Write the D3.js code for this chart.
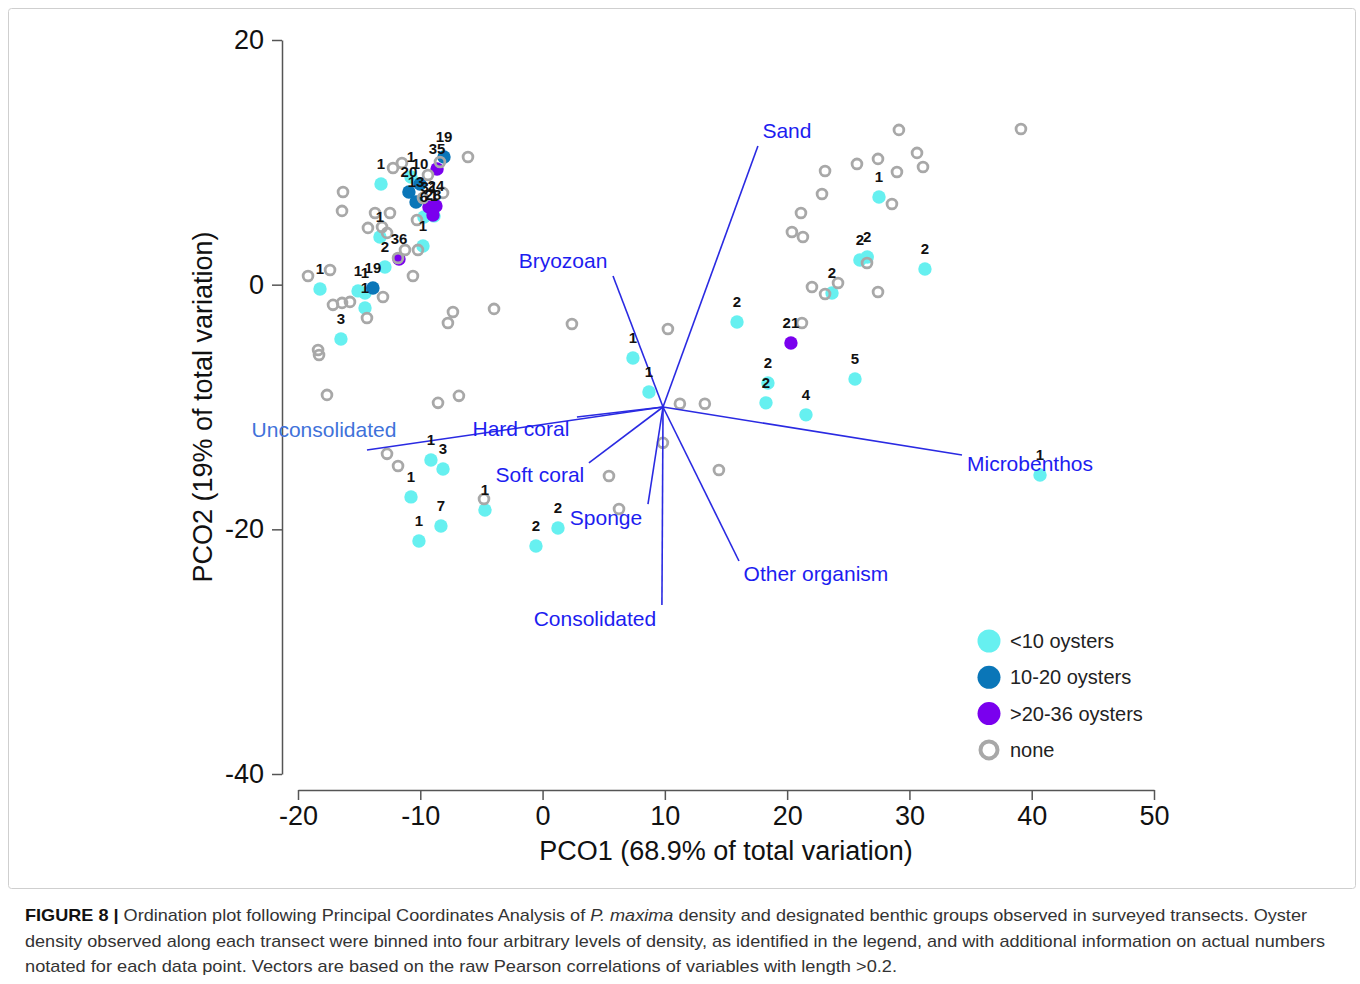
<!DOCTYPE html>
<html>
<head>
<meta charset="utf-8">
<script src="https://cdn.jsdelivr.net/npm/d3@7"></script>
<style>
  html, body { margin: 0; padding: 0; background: #ffffff; }
  svg { display: block; }
  text { font-family: "Liberation Sans", Arial, Helvetica, sans-serif; }
</style>
</head>
<body>
<svg id="chart" width="1360" height="984"></svg>
<script>
// ---- Data -------------------------------------------------------------
// Transect scores on the first two principal coordinates and the number of
// P. maxima counted on each transect (0 = no oysters observed).
const pco1 = [
  // oysters present
  -18.20, -16.49, -15.09, -14.52, -14.52, -12.89, -13.30, -9.78, -13.21,
  -10.76, -10.02, -10.93, -10.35, -9.70, -8.88, -9.29, -8.72, -8.96,
  -8.06, -8.63, -11.74, -13.87,
  -9.13, -8.14, -10.76, -8.31, -10.11, -4.71, -0.54, 1.26,
  7.39, 8.70, 15.90, 18.43, 18.27, 21.54, 25.55, 40.68, 20.31,
  27.51, 25.95, 26.55, 31.27, 23.67,
  // no oysters
  39.12, 29.14, 30.62, 31.11, 27.43, 25.71, 28.98, 23.10, 22.85, 28.57,
  21.13, 20.39, 21.29, 26.53, 24.16, 22.03, 23.10, 27.43, 21.21,
  13.27, 11.23, 10.25, 9.84, 14.42, 5.43, 6.25, 2.40,
  -3.97, -4.79, -6.84, -8.55, -7.33, -7.74, -12.72, -11.82,
  -17.63, -18.36, -18.28, -17.14, -16.40, -15.75, -17.38, -19.18,
  -13.05, -14.36, -10.60, -11.82, -11.25, -10.19,
  -16.32, -16.40, -13.70, -12.48, -14.28, -13.13, -12.72, -10.27,
  -12.23, -11.50, -9.37, -6.10, -8.14, -9.78, -8.39
];
const pco2 = [
  -0.35, -4.44, -0.51, -0.68, -1.90, 1.45, 3.90, 3.16, 8.23,
  8.80, 8.23, 7.58, 6.76, 5.53, 5.62, 6.35, 6.43, 5.70,
  10.44, 9.46, 2.10, -0.27,
  -14.33, -15.07, -17.35, -19.73, -20.95, -18.42, -21.36, -19.89,
  -5.99, -8.77, -3.05, -8.04, -9.66, -10.64, -7.71, -15.56, -4.77,
  7.17, 2.02, 2.26, 1.28, -0.68,
  12.73, 12.65, 10.77, 9.62, 10.28, 9.87, 9.21, 9.29, 7.41, 6.60,
  5.86, 4.31, 3.90, 1.77, 0.14, -0.19, -0.76, -0.60, -3.13,
  -9.74, -9.74, -3.62, -12.93, -15.15, -15.64, -18.34, -3.21,
  -1.98, -17.52, -9.09, -9.66, -2.23, -3.13, -13.83, -14.82,
  -9.01, -5.34, -5.75, -1.65, -1.49, -1.41, 1.20, 0.71,
  -1.01, -2.72, 0.71, 2.18, 2.84, 2.84,
  7.58, 6.03, 5.86, 5.86, 4.64, 4.72, 4.23, 5.29,
  9.54, 9.95, 8.97, 10.44, 7.50, 7.09, 10.03
];
const oysterCount = [
  1, 3, 1, 1, 1, 2, 1, 1, 1,
  1, 10, 20, 13, 6, 1, 31, 24, 28,
  19, 35, 36, 19,
  1, 3, 1, 7, 1, 1, 2, 2,
  1, 1, 2, 2, 2, 4, 5, 1, 21,
  1, 2, 2, 2, 2,
  0, 0, 0, 0, 0, 0, 0, 0, 0, 0,
  0, 0, 0, 0, 0, 0, 0, 0, 0,
  0, 0, 0, 0, 0, 0, 0, 0,
  0, 0, 0, 0, 0, 0, 0, 0,
  0, 0, 0, 0, 0, 0, 0, 0,
  0, 0, 0, 0, 0, 0,
  0, 0, 0, 0, 0, 0, 0, 0,
  0, 0, 0, 0, 0, 0, 0
];

// Benthic-group vectors (Pearson correlations > 0.2), drawn from a common origin
const vectorNames = ["Sand", "Bryozoan", "Unconsolidated", "Hard coral", "Soft coral",
                     "Sponge", "Consolidated", "Other organism", "Microbenthos"];
const vectorEndX = [17.61, 5.76, -14.36, 2.81, 3.79, 8.62, 9.76, 16.06, 34.30];
const vectorEndY = [11.34, 0.71, -13.51, -10.82, -14.57, -17.93, -26.19, -22.59, -13.92];
const vectorOrigin = [9.85, -10.0];

// Density bins used for colouring and the legend
const densityLabels = ["<10 oysters", "10-20 oysters", ">20-36 oysters", "none"];

// Axis ticks and titles
const xTicks = [-20, -10, 0, 10, 20, 30, 40, 50];
const yTicks = [-40, -20, 0, 20];
const xTitle = "PCO1 (68.9% of total variation)";
const yTitle = "PCO2 (19% of total variation)";

// ---- Layout & style ---------------------------------------------------
const binColors = ["#66f0f0", "#0a76b8", "#7a00ee", "#a8a8a8"];
const vectorColor = "#2a2ae2";
const vectorLabelColor = ["#1d1df0", "#1d1df0", "#3f72da", "#1d1df0", "#1d1df0",
                          "#1d1df0", "#1d1df0", "#1d1df0", "#1d1df0"];
// pixel offset of each vector label centre from the vector tip
const vectorLabelOffset = [[29, -15], [-50, -15], [-43, -20], [-56, 11], [-49, 12],
                           [-42, 13], [-67, 13], [77, 12], [68, 9]];

function binOf(n) {
  if (n === 0) return 3;
  if (n < 10) return 0;
  if (n <= 20) return 1;
  return 2;
}

const svg = d3.select("#chart");

// Figure frame
svg.append("rect")
  .attr("x", 8.5).attr("y", 8.5)
  .attr("width", 1347).attr("height", 880)
  .attr("rx", 3)
  .attr("fill", "none")
  .attr("stroke", "#cfcfcf")
  .attr("stroke-width", 1);

const x = d3.scaleLinear().domain([-20, 50]).range([298, 1154]);
const y = d3.scaleLinear().domain([-40, 20]).range([774, 40]);

// ---- Axes -------------------------------------------------------------
function styleAxis(g) {
  g.select(".domain").attr("stroke", "#555").attr("stroke-width", 1.5);
  g.selectAll(".tick line").attr("stroke", "#555").attr("stroke-width", 1.5);
  g.selectAll(".tick text")
    .attr("fill", "#111")
    .style("font-size", "27px")
    .style("font-family", "'Liberation Sans', Arial, sans-serif");
}
const plainNumber = d => String(d);

svg.append("g")
  .attr("transform", "translate(282,0)")
  .call(d3.axisLeft(y).tickValues(yTicks).tickSize(10).tickSizeOuter(0).tickPadding(8)
        .tickFormat(plainNumber))
  .call(styleAxis);

svg.append("g")
  .attr("transform", "translate(0,790)")
  .call(d3.axisBottom(x).tickValues(xTicks).tickSize(10).tickSizeOuter(0).tickPadding(6)
        .tickFormat(plainNumber))
  .call(styleAxis);

svg.append("text")
  .attr("x", 726).attr("y", 860)
  .attr("text-anchor", "middle")
  .attr("fill", "#111")
  .style("font-size", "27px")
  .text(xTitle);

svg.append("text")
  .attr("transform", "translate(212,407) rotate(-90)")
  .attr("text-anchor", "middle")
  .attr("fill", "#111")
  .style("font-size", "27px")
  .text(yTitle);

// ---- Points -----------------------------------------------------------
const points = pco1.map((v, i) => ({ px: v, py: pco2[i], n: oysterCount[i], bin: binOf(oysterCount[i]) }));

// occupied transects (filled discs)
svg.append("g").selectAll("circle")
  .data(points.filter(d => d.bin !== 3))
  .join("circle")
  .attr("cx", d => x(d.px))
  .attr("cy", d => y(d.py))
  .attr("r", 6.7)
  .attr("fill", d => binColors[d.bin]);

// transects with no oysters (open rings)
svg.append("g").selectAll("circle")
  .data(points.filter(d => d.bin === 3))
  .join("circle")
  .attr("cx", d => x(d.px))
  .attr("cy", d => y(d.py))
  .attr("r", 4.9)
  .attr("fill", "none")
  .attr("stroke", binColors[3])
  .attr("stroke-width", 2.8);

// ---- Vectors ----------------------------------------------------------
const vectors = vectorNames.map((name, i) => ({ name, ex: vectorEndX[i], ey: vectorEndY[i], i }));

svg.append("g").selectAll("line")
  .data(vectors)
  .join("line")
  .attr("x1", x(vectorOrigin[0])).attr("y1", y(vectorOrigin[1]))
  .attr("x2", d => x(d.ex)).attr("y2", d => y(d.ey))
  .attr("stroke", vectorColor)
  .attr("stroke-width", 1.6);

svg.append("g").selectAll("text")
  .data(vectors)
  .join("text")
  .attr("x", d => x(d.ex) + vectorLabelOffset[d.i][0])
  .attr("y", d => y(d.ey) + vectorLabelOffset[d.i][1])
  .attr("text-anchor", "middle")
  .attr("dominant-baseline", "central")
  .attr("fill", d => vectorLabelColor[d.i])
  .style("font-size", "21px")
  .text(d => d.name);

// ---- Oyster counts ----------------------------------------------------
svg.append("g").selectAll("text")
  .data(points.filter(d => d.n > 0))
  .join("text")
  .attr("x", d => x(d.px))
  .attr("y", d => y(d.py) - 15)
  .attr("text-anchor", "middle")
  .attr("fill", "#111")
  .style("font-size", "15px")
  .style("font-weight", "bold")
  .text(d => d.n);

// ---- Legend -----------------------------------------------------------
const legend = svg.append("g").attr("transform", "translate(989,641)");
const legendRows = legend.selectAll("g")
  .data(densityLabels)
  .join("g")
  .attr("transform", (d, i) => `translate(0,${i * 36.3})`);

legendRows.append("circle")
  .attr("r", (d, i) => i === 3 ? 8.5 : 11.5)
  .attr("fill", (d, i) => i === 3 ? "none" : binColors[i])
  .attr("stroke", (d, i) => i === 3 ? binColors[3] : "none")
  .attr("stroke-width", 4);

legendRows.append("text")
  .attr("x", 21)
  .attr("dominant-baseline", "central")
  .attr("fill", "#222")
  .style("font-size", "20px")
  .text(d => d);

// ---- Caption ----------------------------------------------------------
const captionLines = [
  [["FIGURE 8 | ", "bold", "normal"], ["Ordination plot following Principal Coordinates Analysis of ", "normal", "normal"],
   ["P. maxima", "normal", "italic"], [" density and designated benthic groups observed in surveyed transects. Oyster", "normal", "normal"]],
  [["density observed along each transect were binned into four arbitrary levels of density, as identified in the legend, and with additional information on actual numbers", "normal", "normal"]],
  [["notated for each data point. Vectors are based on the raw Pearson correlations of variables with length >0.2.", "normal", "normal"]]
];
const captionWidths = [1282, 1300, 872];

captionLines.forEach((parts, li) => {
  const t = svg.append("text")
    .attr("x", 25)
    .attr("y", 921 + li * 25.5)
    .attr("fill", "#333")
    .attr("textLength", captionWidths[li])
    .attr("lengthAdjust", "spacingAndGlyphs")
    .style("font-size", "17px");
  parts.forEach(([txt, weight, fstyle]) => {
    t.append("tspan")
      .attr("font-weight", weight)
      .attr("font-style", fstyle)
      .attr("fill", weight === "bold" ? "#111" : "#333")
      .text(txt);
  });
});
</script>
</body>
</html>
